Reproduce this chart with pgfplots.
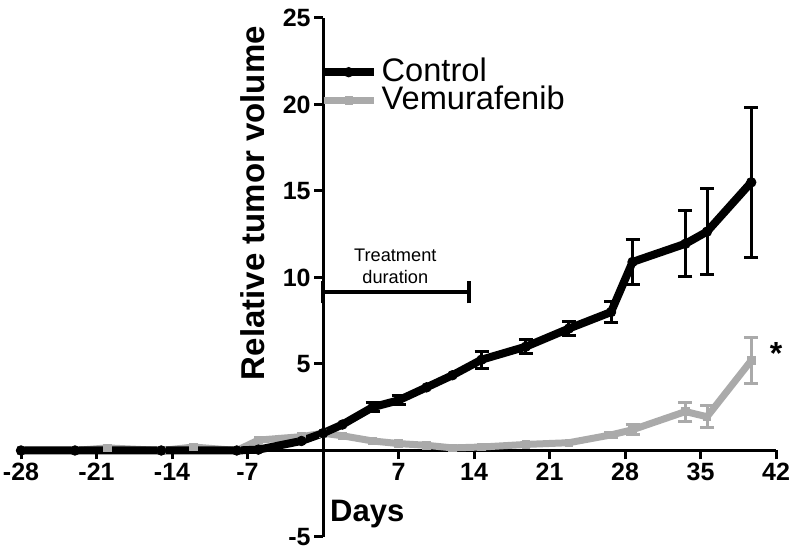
\documentclass[border=0pt]{standalone}
\usepackage{fontspec}
\setmainfont{Liberation Sans}
\usepackage{pgfplots}
\pgfplotsset{compat=1.18}
\definecolor{vemu}{RGB}{170,170,170}

\begin{document}
\begin{tikzpicture}
\begin{axis}[
  scale only axis,
  width=377.5bp, height=259.5bp,
  xmin=-28, xmax=42, ymin=-5, ymax=25,
  axis lines=middle,
  axis line style={-, line width=1.5bp},
  xtick={-28,-21,-14,-7,7,14,21,28,35,42},
  ytick={-5,5,10,15,20,25},
  tick align=outside,
  major tick length=4.5bp,
  tick style={line width=1.5bp, black},
  /pgf/number format/assume math mode=true,
  ticklabel style={font=\fontsize{12.5bp}{14bp}\selectfont\bfseries},
  xticklabel style={inner sep=1.5bp},
  yticklabel style={inner sep=1.5bp},
  clip=false,
  reverse legend,
  legend cell align=left,
  legend style={draw=none, fill=none, at={(axis cs:-0.9,22.9)}, anchor=north west,
    font=\fontsize{16.3bp}{18bp}\selectfont, row sep=0.5bp,
    nodes={inner xsep=2bp, inner ysep=0pt, text height=11.5bp, text depth=2bp}},
  legend image code/.code={
    \draw[mark repeat=2, mark phase=2, #1] plot coordinates {(0bp,0bp) (12.5bp,0bp) (25bp,0bp)};
  },
]
% Vemurafenib
\addplot[vemu, line width=3.5bp, mark=square*, mark size=1.9bp,
  mark options={line width=0.4bp},
  error bars/.cd, y dir=both, y explicit,
  error bar style={vemu, line width=1.5bp},
  error mark options={vemu, rotate=90, mark size=3.5bp, line width=1.5bp}]
coordinates {
  (-28,0) (-23,0) (-20,0.15) (-15,0) (-12,0.2) (-8,0) (-6,0.6) (-2,0.8) (0,1.0)
  (1.8,0.85) (4.6,0.55) (7,0.4) (9.6,0.3) (12,0.15) (14.7,0.2) (18.8,0.35) (22.8,0.45)
  (26.7,0.9) +- (0,0.15)
  (28.7,1.2) +- (0,0.3)
  (33.6,2.25) +- (0,0.55)
  (35.6,1.95) +- (0,0.65)
  (39.7,5.2) +- (0,1.35)
};
\addlegendentry{Vemurafenib}
% Control
\addplot[black, line width=4bp, mark=*, mark size=2.4bp,
  mark options={line width=0.4bp},
  error bars/.cd, y dir=both, y explicit,
  error bar style={black, line width=1.5bp},
  error mark options={black, rotate=90, mark size=3.5bp, line width=1.5bp}]
coordinates {
  (-28,0) (-23,0) (-15,0) (-8,0) (-6,0.05) (-2,0.55) (0,1.0) (1.8,1.5)
  (4.6,2.5) +- (0,0.25)
  (7,2.9) +- (0,0.25)
  (9.6,3.65) (12,4.35)
  (14.7,5.25) +- (0,0.5)
  (18.8,6.0) +- (0,0.4)
  (22.8,7.05) +- (0,0.4)
  (26.7,8.0) +- (0,0.6)
  (28.7,10.9) +- (0,1.3)
  (33.6,11.95) +- (0,1.9)
  (35.6,12.65) +- (0,2.5)
  (39.7,15.5) +- (0,4.35)
};
\addlegendentry{Control}
% treatment duration bar
\draw[line width=2bp] (axis cs:0,9.15) -- (axis cs:13.5,9.15);
\draw[line width=2bp] (axis cs:0,8.5) -- (axis cs:0,9.8);
\draw[line width=2bp] (axis cs:13.5,8.5) -- (axis cs:13.5,9.8);
\node[align=center, font=\fontsize{9.1bp}{10.85bp}\selectfont] at (axis cs:6.7,10.65) {Treatment\\duration};
\node[font=\fontsize{16bp}{18bp}\selectfont\bfseries] at (axis cs:42,5.6) {*};
\node[font=\fontsize{15.5bp}{18bp}\selectfont\bfseries] at (axis cs:4.1,-3.7) {Days};
\node[rotate=90, font=\fontsize{16.5bp}{18bp}\selectfont\bfseries] at (axis cs:-6.5,14.3) {Relative tumor volume};
\coordinate (bl) at (axis cs:-29.95,-6.27);
\coordinate (tr) at (axis cs:44.13,26.04);
\end{axis}
\pgfresetboundingbox
\path[use as bounding box] (bl) rectangle (tr);
\end{tikzpicture}
\end{document}
